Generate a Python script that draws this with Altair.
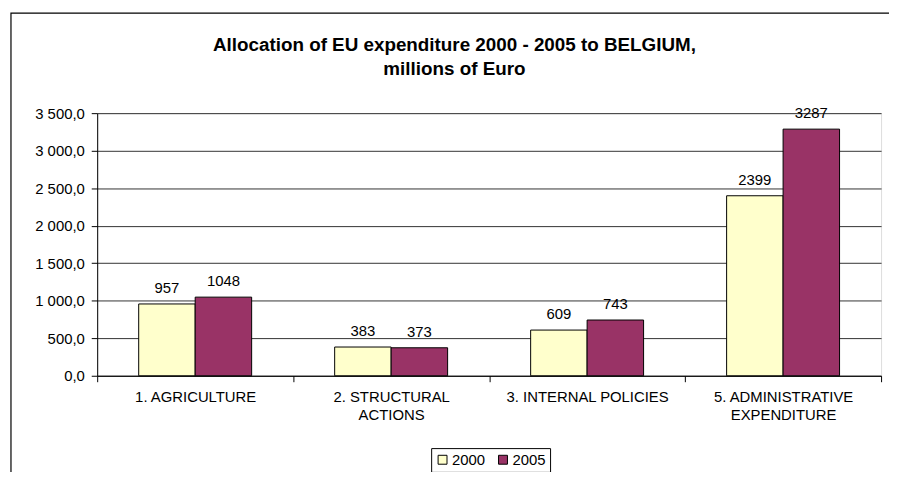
import altair as alt
import pandas as pd

categories = ["1. AGRICULTURE", "2. STRUCTURAL\nACTIONS", "3. INTERNAL POLICIES", "5. ADMINISTRATIVE\nEXPENDITURE"]
years = ["2000", "2005"]
values_2000 = [957, 383, 609, 2399]
values_2005 = [1048, 373, 743, 3287]
y_ticks = [0, 500, 1000, 1500, 2000, 2500, 3000, 3500]
title_lines = ["Allocation of EU expenditure 2000 - 2005 to BELGIUM,", "millions of Euro"]

rows = []
for c, a, b in zip(categories, values_2000, values_2005):
    rows.append({"category": c, "year": years[0], "value": a})
    rows.append({"category": c, "year": years[1], "value": b})
df = pd.DataFrame(rows)
title_df = pd.DataFrame({"line": title_lines, "row": [0, 1]})

FONT = "Liberation Sans"
FS = 15
W, H = 791, 265

x_enc = alt.X("category:N", sort=categories, title=None,
              scale=alt.Scale(paddingInner=0, paddingOuter=0),
              axis=alt.Axis(labelAngle=0, labelExpr="split(datum.label, '\\n')",
                            tickBand="extent", tickSize=6, tickColor="black",
                            domainColor="black", labelFontSize=FS, labelFont=FONT,
                            labelColor="black", labelPadding=8, labelLineHeight=18,
                            labelBaseline="top", grid=False))
xoff = alt.XOffset("year:N", sort=years, scale=alt.Scale(paddingOuter=0.735, paddingInner=0))
y_enc = alt.Y("value:Q", title=None,
              scale=alt.Scale(domain=[0, 3500], nice=False),
              axis=alt.Axis(values=y_ticks, grid=True, gridColor="#333333", gridWidth=1,
                            tickSize=6, tickColor="black", domainColor="black",
                            labelFontSize=FS, labelFont=FONT, labelColor="black",
                            labelPadding=7,
                            labelExpr="replace(replace(format(datum.value, ',.1f'), ',', ' '), '.', ',')"))

bars = alt.Chart(df).mark_bar(stroke="black", strokeWidth=1).encode(
    x=x_enc, xOffset=xoff, y=y_enc,
    color=alt.Color("year:N", sort=years,
                    scale=alt.Scale(domain=years, range=["#FFFFCC", "#993366"]),
                    legend=alt.Legend(title=None, orient="none", legendX=337, legendY=338,
                                      direction="horizontal", strokeColor="black",
                                      padding=4, symbolType="square", symbolSize=81,
                                      symbolStrokeColor="black", symbolStrokeWidth=1,
                                      labelFontSize=FS, labelFont=FONT, labelColor="black",
                                      labelOffset=2, columnPadding=10))
)

labels = alt.Chart(df).mark_text(dy=-16, fontSize=FS, font=FONT, color="black").encode(
    x=x_enc, xOffset=xoff, y=y_enc, text=alt.Text("value:Q", format="d")
)

title1 = alt.Chart(title_df).transform_filter("datum.row == 0").mark_text(
    fontSize=19, fontWeight="bold", font=FONT, color="black", baseline="middle"
).encode(x=alt.value(360.5), y=alt.value(-69), text="line:N")

title2 = alt.Chart(title_df).transform_filter("datum.row == 1").mark_text(
    fontSize=19, fontWeight="bold", font=FONT, color="black", baseline="middle"
).encode(x=alt.value(360.5), y=alt.value(-44), text="line:N")

frame = alt.Chart(pd.DataFrame({"a": [0]})).mark_rect(
    fillOpacity=0, stroke="black", strokeWidth=1.2
).encode(x=alt.value(-87), x2=alt.value(1000), y=alt.value(-101), y2=alt.value(600))

chart = alt.layer(bars, labels, title1, title2, frame).properties(
    width=W, height=H,
    autosize=alt.AutoSizeParams(type="none"),
    padding={"left": 90, "top": 104, "right": 8, "bottom": 95},
).configure_view(fill="#C0C0C0", stroke="#808080").configure(background="white")

chart.save("out.html", embed_options={"renderer": "svg", "actions": False})
